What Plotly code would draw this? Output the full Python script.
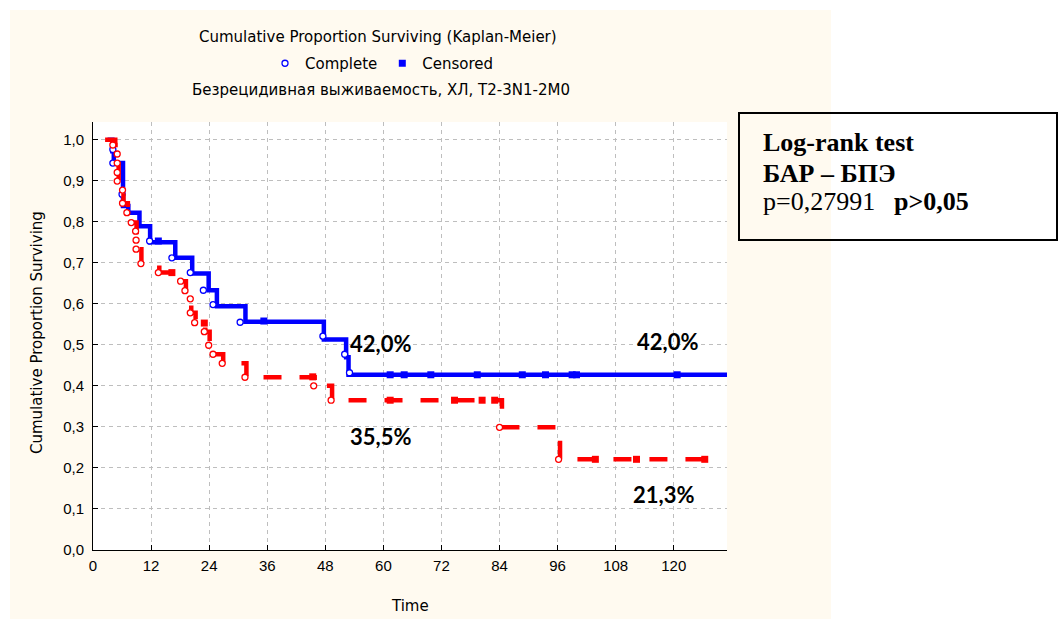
import plotly.graph_objects as go

# ---------------- data ----------------
# Group 1 (blue, solid)
blue_line_t = [3.0, 4.0, 4.3, 6.2, 7.3, 9.6, 11.8, 17.0, 20.5, 23.9, 25.6, 31.5, 47.7, 52.3, 52.8, 131.0]
blue_line_s = [1.0, 0.972, 0.943, 0.838, 0.822, 0.789, 0.750, 0.712, 0.674, 0.633, 0.594, 0.556, 0.513, 0.470, 0.427, 0.427]
blue_complete_t = [4.1, 4.1, 6.0, 11.7, 16.3, 20.1, 22.8, 24.8, 30.4, 47.5, 52.0, 53.0]
blue_complete_s = [0.976, 0.943, 0.867, 0.753, 0.712, 0.676, 0.633, 0.598, 0.555, 0.521, 0.477, 0.432]
blue_censored_t = [13.5, 35.3, 61.4, 64.3, 69.8, 79.4, 88.7, 93.5, 99.0, 99.9, 120.7]
blue_censored_s = [0.753, 0.558, 0.427, 0.427, 0.427, 0.427, 0.427, 0.427, 0.427, 0.427, 0.427]

# Group 2 (red, dashed)
red_line_t = [2.5, 4.6, 5.3, 6.3, 7.2, 8.1, 9.0, 10.0, 13.7, 18.3, 19.2, 20.3, 21.2, 23.2, 24.1,
              25.0, 26.9, 31.7, 45.8, 49.4, 84.5, 96.5, 126.4]
red_line_s = [1.0, 0.987, 0.899, 0.845, 0.822, 0.798, 0.733, 0.698, 0.676, 0.655, 0.632, 0.578, 0.554,
              0.532, 0.499, 0.477, 0.455, 0.421, 0.400, 0.365, 0.299, 0.221, 0.221]
red_complete_t = [4.1, 5.0, 5.0, 5.0, 5.0, 6.1, 6.1, 7.0, 7.9, 8.8, 8.9, 8.9, 9.9, 13.5, 18.1, 19.0,
                  20.1, 20.1, 21.0, 23.0, 23.9, 24.8, 26.7, 31.4, 45.6, 49.2, 84.0, 96.2]
red_complete_s = [0.987, 0.965, 0.943, 0.920, 0.899, 0.877, 0.845, 0.822, 0.798, 0.777, 0.755, 0.733,
                  0.698, 0.676, 0.655, 0.632, 0.612, 0.578, 0.554, 0.532, 0.499, 0.477, 0.455, 0.421,
                  0.400, 0.365, 0.299, 0.221]
red_censored_t = [16.3, 23.0, 45.4, 61.4, 74.7, 80.4, 83.0, 103.8, 112.3, 126.4]
red_censored_s = [0.676, 0.553, 0.422, 0.365, 0.365, 0.365, 0.365, 0.221, 0.221, 0.221]

x_tick_vals = [0, 12, 24, 36, 48, 60, 72, 84, 96, 108, 120]
y_tick_vals = [0.0, 0.1, 0.2, 0.3, 0.4, 0.5, 0.6, 0.7, 0.8, 0.9, 1.0]

pct_labels = ["42,0%", "42,0%", "35,5%", "21,3%"]

title_text = "Cumulative Proportion Surviving (Kaplan-Meier)"
subtitle_text = "Безрецидивная выживаемость, ХЛ, T2-3N1-2M0"
x_title = "Time"
y_title = "Cumulative Proportion Surviving"
box_lines = ["<b>Log-rank test</b>", "<b>БАР – БПЭ</b>", "p=0,27991", "<b>p&gt;0,05</b>"]

# ---------------- layout geometry ----------------
W, H = 1060, 619
L, R, T, B = 93, 727, 122, 550          # plot area in pixels
X_MAX = 131.0
Y_MAX = 1.043


def xp(px):
    return (px - L) / (R - L)


def yp(py):
    return (B - py) / (B - T)


BLUE = "#0000FF"
RED = "#FF0000"
CREAM = "#FFFAF0"
SANS = "DejaVu Sans"
ARIAL = "Liberation Sans"

fig = go.Figure()

fig.add_trace(go.Scatter(x=blue_line_t, y=blue_line_s, mode="lines",
                         line=dict(color=BLUE, width=4.5, shape="hv"),
                         showlegend=False, hoverinfo="skip"))
fig.add_trace(go.Scatter(x=blue_complete_t, y=blue_complete_s, mode="markers", name="Complete",
                         marker=dict(symbol="circle", size=6, color="white",
                                     line=dict(color=BLUE, width=1.3))))
fig.add_trace(go.Scatter(x=blue_censored_t, y=blue_censored_s, mode="markers", name="Censored",
                         marker=dict(symbol="square", size=7, color=BLUE)))
fig.add_trace(go.Scatter(x=red_line_t, y=red_line_s, mode="lines",
                         line=dict(color=RED, width=4.5, shape="hv", dash="18px,18px"),
                         showlegend=False, hoverinfo="skip"))
fig.add_trace(go.Scatter(x=red_complete_t, y=red_complete_s, mode="markers", showlegend=False,
                         marker=dict(symbol="circle", size=6, color="white",
                                     line=dict(color=RED, width=1.3))))
fig.add_trace(go.Scatter(x=red_censored_t, y=red_censored_s, mode="markers", showlegend=False,
                         marker=dict(symbol="square", size=7, color=RED)))

top_ticks = [3.5 + 12.75 * k for k in range(11) if 3.5 + 12.75 * k <= X_MAX]
right_ticks = [0.1107 * k for k in range(1, 10)]

annotations = [
    dict(text=title_text, x=xp(378), y=yp(37), font=dict(family=SANS, size=15, color="black")),
    dict(text=subtitle_text, x=xp(381), y=yp(90), font=dict(family=SANS, size=15, color="black")),
    dict(text=x_title, x=xp(410), y=yp(606), font=dict(family=SANS, size=15, color="black")),
    dict(text=y_title, x=xp(37), y=yp(333), textangle=-90, font=dict(family=SANS, size=15, color="black")),
]
pct_pos = [(380, 343), (667, 341), (380, 436), (663, 494)]
for txt, (px, py) in zip(pct_labels, pct_pos):
    annotations.append(dict(text="<b>" + txt + "</b>", x=xp(px), y=yp(py),
                            font=dict(family="Lato", size=22, color="black")))
box_pos = [(761, 142), (761, 173), (761, 201), (892, 201)]
for txt, (px, py) in zip(box_lines, box_pos):
    annotations.append(dict(text=txt, x=xp(px), y=yp(py), xanchor="left",
                            font=dict(family="Liberation Serif", size=26, color="black")))
for a in annotations:
    a.update(xref="paper", yref="paper", showarrow=False)
    a.setdefault("xanchor", "center")
    a.setdefault("yanchor", "middle")

shapes = [
    dict(type="rect", xref="paper", yref="paper", x0=xp(10), x1=xp(831), y0=yp(625), y1=yp(10),
         fillcolor=CREAM, line=dict(width=0), layer="below"),
    dict(type="rect", xref="paper", yref="paper", x0=0, x1=1, y0=0, y1=1,
         fillcolor="white", line=dict(width=0), layer="below"),
    dict(type="rect", xref="paper", yref="paper", x0=xp(739), x1=xp(1057), y0=yp(240), y1=yp(113),
         fillcolor="rgba(0,0,0,0)", line=dict(color="black", width=2), layer="above"),
]

fig.update_layout(
    width=W, height=H,
    margin=dict(l=L, r=W - R, t=T, b=H - B, autoexpand=False),
    paper_bgcolor="white", plot_bgcolor="white",
    separators=", ",
    font=dict(family=ARIAL, size=15, color="black"),
    showlegend=True,
    legend=dict(orientation="h", x=xp(265), y=yp(63.5), xanchor="left", yanchor="middle",
                bgcolor="rgba(0,0,0,0)", font=dict(family=SANS, size=15, color="black"),
                itemclick=False),
    xaxis=dict(range=[0, X_MAX], tickvals=x_tick_vals, ticks="inside", ticklen=5, tickcolor="black",
               showline=True, linecolor="black", linewidth=1, mirror=False,
               showgrid=True, gridcolor="#BEBEBE", griddash="4px,4px", gridwidth=1, zeroline=False,
               ticklabelstandoff=2,
               tickfont=dict(family=ARIAL, size=15, color="black")),
    yaxis=dict(range=[0, Y_MAX], tickvals=y_tick_vals, tickformat=".1f", ticks="inside", ticklen=5,
               tickcolor="black", showline=True, linecolor="black", linewidth=1, mirror=False,
               showgrid=True, gridcolor="#BEBEBE", griddash="4px,4px", gridwidth=1, zeroline=False,
               ticklabelstandoff=5,
               tickfont=dict(family=ARIAL, size=15, color="black")),
    xaxis2=dict(range=[0, X_MAX], overlaying="x", side="top", anchor="y", tickvals=top_ticks,
                ticks="outside", ticklen=4, tickcolor="#444", showticklabels=False,
                showline=True, linecolor="#555", showgrid=False, zeroline=False),
    yaxis2=dict(range=[0, Y_MAX], overlaying="y", side="right", anchor="x", tickvals=right_ticks,
                ticks="outside", ticklen=5, tickcolor="#444", showticklabels=False,
                showline=True, linecolor="#333", showgrid=False, zeroline=False),
    annotations=annotations,
    shapes=shapes,
    hovermode=False,
)

fig.write_html("out.html", config={"displayModeBar": False},
               post_script="document.body.style.margin='0px';")
